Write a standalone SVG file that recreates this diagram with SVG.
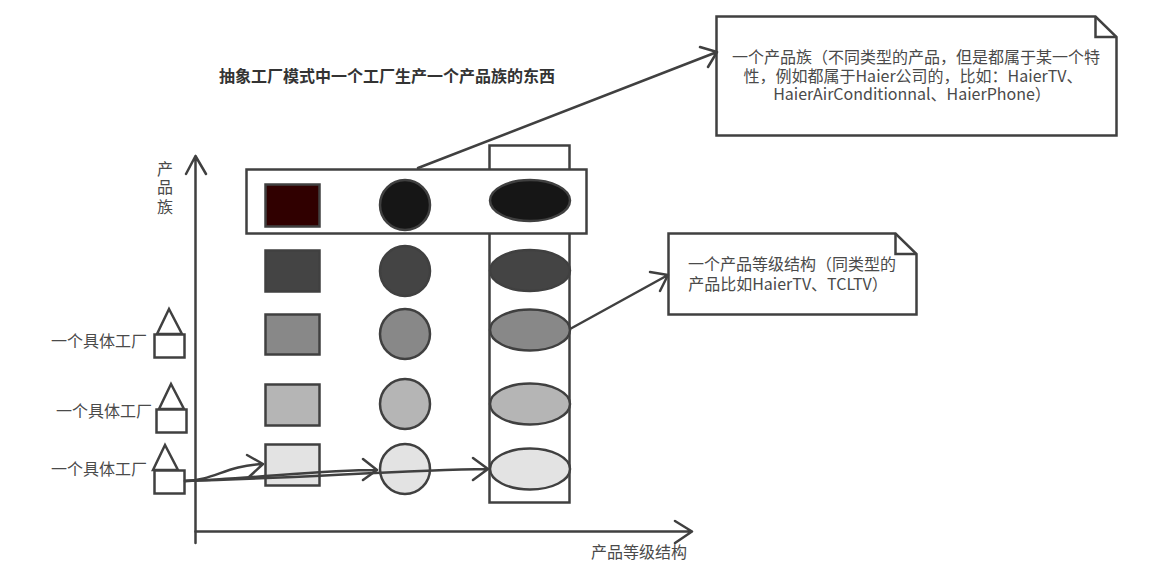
<svg xmlns="http://www.w3.org/2000/svg" width="1164" height="585" viewBox="0 0 1164 585">
<style>
text{font-family:"Noto Sans CJK SC","Liberation Sans",sans-serif;font-size:16px;fill:#4a4a4a;text-anchor:middle}
.b{font-weight:700;fill:#333}
.s{stroke:#404040;stroke-width:2.500;fill:#fff}
.n{stroke:#404040;stroke-width:2.500;fill:none}
.l{stroke:#404040;stroke-width:2.500;fill:none;stroke-linecap:round;stroke-linejoin:round}
</style>
<rect width="1164" height="585" fill="#fff"/>
<g id="title"><text class="b" x="387" y="82">抽象工厂模式中一个工厂生产一个产品族的东西</text></g>
<g id="family-column"><rect class="s" x="489.500" y="145.500" width="80" height="357"/></g>
<g id="family-row"><rect class="s" x="246.500" y="169.500" width="340" height="64"/></g>
<g id="squares">
<rect class="s" x="265.500" y="184.500" width="54" height="42" style="fill:#300000"/>
<rect class="s" x="265.500" y="250.500" width="54" height="41" style="fill:#444"/>
<rect class="s" x="265.500" y="314.500" width="54" height="40" style="fill:#888"/>
<rect class="s" x="265.500" y="384.500" width="54" height="41" style="fill:#b5b5b5"/>
<rect class="s" x="265.500" y="444.500" width="54" height="41" style="fill:#e3e3e3"/>
</g>
<g id="circles">
<ellipse class="s" cx="405" cy="205" rx="25" ry="25" style="fill:#161616"/>
<ellipse class="s" cx="405" cy="271" rx="25" ry="25" style="fill:#444"/>
<ellipse class="s" cx="405" cy="334" rx="25" ry="25" style="fill:#888"/>
<ellipse class="s" cx="405" cy="404" rx="25" ry="25" style="fill:#b5b5b5"/>
<ellipse class="s" cx="405" cy="469" rx="25" ry="25" style="fill:#e3e3e3"/>
</g>
<g id="ellipses">
<ellipse class="s" cx="530" cy="200.500" rx="40" ry="20.500" style="fill:#161616"/>
<ellipse class="s" cx="530" cy="270.500" rx="40" ry="20.500" style="fill:#444"/>
<ellipse class="s" cx="530" cy="330" rx="40" ry="20.500" style="fill:#888"/>
<ellipse class="s" cx="530" cy="404" rx="40" ry="20.500" style="fill:#b5b5b5"/>
<ellipse class="s" cx="530" cy="469" rx="40" ry="20.500" style="fill:#e3e3e3"/>
</g>
<g id="factory-1">
<path class="s" d="M157 334L169 309L182 334Z"/><rect class="s" x="154.500" y="334.500" width="30" height="23"/>
<text x="99" y="347">一个具体工厂</text>
</g>
<g id="factory-2">
<path class="s" d="M159 409L171 384L184 409Z"/><rect class="s" x="156.500" y="409.500" width="30" height="23"/>
<text x="104" y="417">一个具体工厂</text>
</g>
<g id="factory-3">
<path class="s" d="M153 470L165 445L178 470Z"/><rect class="s" x="154.500" y="470.500" width="30" height="23"/>
<text x="99" y="475">一个具体工厂</text>
</g>
<g id="axis-labels">
<text x="165" y="175">产</text><text x="165" y="193">品</text><text x="165" y="213">族</text>
<text x="639" y="558">产品等级结构</text>
</g>
<g id="note-family">
<path class="s" d="M716.500 16.500H1095.500L1116.500 37V135.500H716.500Z"/>
<path class="n" d="M1095.500 16.500V37H1116.500"/>
<text x="916" y="63">一个产品族（不同类型的产品，但是都属于某一个特</text>
<text x="913" y="82">性，例如都属于Haier公司的，比如：HaierTV、</text>
<text x="912" y="100">HaierAirConditionnal、HaierPhone）</text>
</g>
<g id="note-level">
<path class="s" d="M668.500 233.500H895.500L916.500 254V314.500H668.500Z"/>
<path class="n" d="M895.500 233.500V254H916.500"/>
<text x="792" y="270">一个产品等级结构（同类型的</text>
<text x="788" y="290">产品比如HaierTV、TCLTV）</text>
</g>
<g id="connectors">
<path class="l" d="M195.500 543V156M186 174L195.500 156L206 174"/>
<path class="l" d="M195.500 531.500H692M675 521L692 531.500L675 543"/>
<path class="l" d="M418 168L717 52M700 47L717 52L708 67"/>
<path class="l" d="M570 329L668 275M650 272L668 275L660 291"/>
<path class="l" d="M185 481C215 480 225 466 263 464M247 455L263 464L249 477"/>
<path class="l" d="M185 481C260 478 320 470 377 470M363 459L377 470L363 480"/>
<path class="l" d="M185 481C300 478 400 470 488 469M473 458L488 469L473 480"/>
</g>
</svg>
